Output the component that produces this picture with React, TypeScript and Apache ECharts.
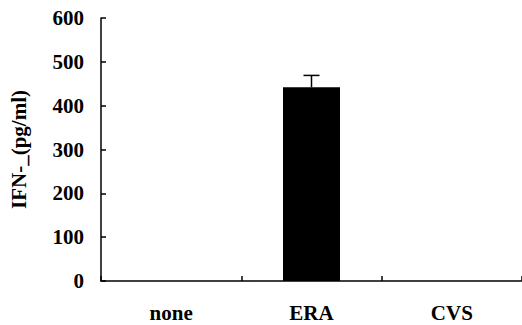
import React, { useEffect, useRef } from "react";
import * as echarts from "echarts";

const categories = ["none", "ERA", "CVS"];
const values = [0, 442, 0];
const errors = [0, 27, 0];
const yTicks = [0, 100, 200, 300, 400, 500, 600];

export default function App() {
  const ref = useRef<HTMLDivElement>(null);
  useEffect(() => {
    document.body.style.margin = "0";
    const chart = echarts.init(ref.current!, null, { renderer: "svg" });
    const font = "'Liberation Serif', 'Times New Roman', serif";
    chart.setOption({
      animation: false,
      backgroundColor: "#ffffff",
      grid: { left: 100, right: 0, top: 18, bottom: 44, containLabel: false },
      xAxis: {
        type: "category",
        data: categories,
        axisLine: { show: true, lineStyle: { color: "#000", width: 1.5 } },
        axisTick: { show: true, inside: true, length: 5, alignWithLabel: false, lineStyle: { color: "#000", width: 1.5 } },
        axisLabel: { color: "#000", fontFamily: font, fontWeight: "bold", fontSize: 21, margin: 21 },
      },
      yAxis: {
        type: "value",
        min: 0,
        max: 600,
        interval: 100,
        name: "IFN-_(pg/ml)",
        nameLocation: "middle",
        nameGap: 72,
        nameTextStyle: { color: "#000", fontFamily: font, fontWeight: "bold", fontSize: 21 },
        splitLine: { show: false },
        axisLine: { show: true, lineStyle: { color: "#000", width: 1.5 } },
        axisTick: { show: true, inside: true, length: 5, lineStyle: { color: "#000", width: 1.5 } },
        axisLabel: {
          color: "#000",
          fontFamily: font,
          fontWeight: "bold",
          fontSize: 21,
          margin: 17,
          formatter: (v: number) => (yTicks.includes(v) ? String(v) : ""),
        },
      },
      series: [
        {
          type: "bar",
          data: values,
          barWidth: 57,
          itemStyle: { color: "#000" },
        },
        {
          type: "custom",
          data: values.map((v, i) => [i, v, errors[i]]),
          renderItem: (params: any, api: any) => {
            const i = api.value(0);
            const v = api.value(1);
            const e = api.value(2);
            if (!e) return null;
            const base = api.coord([i, v]);
            const top = api.coord([i, v + e]);
            const half = 8;
            return {
              type: "group",
              children: [
                { type: "line", shape: { x1: base[0], y1: base[1], x2: top[0], y2: top[1] }, style: { stroke: "#000", lineWidth: 1.5 } },
                { type: "line", shape: { x1: top[0] - half, y1: top[1], x2: top[0] + half, y2: top[1] }, style: { stroke: "#000", lineWidth: 1.5 } },
              ],
            };
          },
          z: 3,
        },
      ],
    });
    return () => chart.dispose();
  }, []);
  return <div ref={ref} style={{ width: 522, height: 325 }} />;
}
